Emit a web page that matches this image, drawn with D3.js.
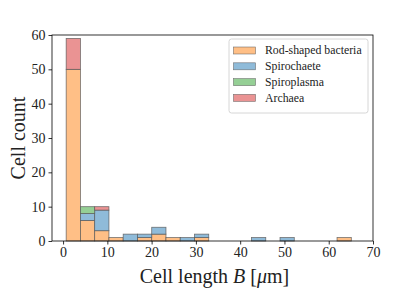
<!DOCTYPE html>
<html>
<head>
<meta charset="utf-8">
<script src="https://cdn.jsdelivr.net/npm/d3@7"></script>
<style>
  body { margin: 0; background: #fff; }
  text { font-family: "Liberation Serif", "DejaVu Serif", serif; }
</style>
</head>
<body>
<div id="chart"></div>
<script>
// bin edges: 20 equal bins between min and max cell length
const binStart = 0.7;
const binEnd = 65.1;
const nBins = 20;

// counts per bin, one array per group (stacked in this order)
const rodShaped   = [50, 6, 3, 1, 0, 1, 2, 1, 0, 1, 0, 0, 0, 0, 0, 0, 0, 0, 0, 1];
const spirochaete = [0, 2, 6, 0, 2, 1, 2, 0, 1, 1, 0, 0, 0, 1, 0, 1, 0, 0, 0, 0];
const spiroplasma = [0, 2, 0, 0, 0, 0, 0, 0, 0, 0, 0, 0, 0, 0, 0, 0, 0, 0, 0, 0];
const archaea     = [9, 0, 1, 0, 0, 0, 0, 0, 0, 0, 0, 0, 0, 0, 0, 0, 0, 0, 0, 0];

const groups = ["Rod-shaped bacteria", "Spirochaete", "Spiroplasma", "Archaea"];
const colors = ["#ffbf86", "#8fbbd9", "#95cf95", "#ea9393"];
const xTicks = [0, 10, 20, 30, 40, 50, 60, 70];
const yTicks = [0, 10, 20, 30, 40, 50, 60];

const W = 415, H = 297;
const margin = {top: 35, right: 42, bottom: 56, left: 52};
const w = W - margin.left - margin.right;
const h = H - margin.top - margin.bottom;
const serif = "'Liberation Serif', 'DejaVu Serif', serif";

const svg = d3.select("#chart").append("svg")
    .attr("width", W).attr("height", H);
const g = svg.append("g")
    .attr("transform", "translate(" + margin.left + "," + margin.top + ")");

const x = d3.scaleLinear().domain([-2.5, 70]).range([0, w]);
const y = d3.scaleLinear().domain([0, 60]).range([h, 0]);

const binW = (binEnd - binStart) / nBins;
const rows = d3.range(nBins).map(i => ({
    x0: binStart + i * binW,
    x1: binStart + (i + 1) * binW,
    "Rod-shaped bacteria": rodShaped[i],
    "Spirochaete": spirochaete[i],
    "Spiroplasma": spiroplasma[i],
    "Archaea": archaea[i]
}));

const stacked = d3.stack().keys(groups)(rows);

stacked.forEach((layer, k) => {
    g.append("g").selectAll("rect")
        .data(layer.filter(d => d[1] - d[0] > 0))
        .enter().append("rect")
        .attr("x", d => x(d.data.x0))
        .attr("width", d => x(d.data.x1) - x(d.data.x0))
        .attr("y", d => y(d[1]))
        .attr("height", d => y(d[0]) - y(d[1]))
        .attr("fill", colors[k])
        .attr("stroke", "#555")
        .attr("stroke-opacity", 0.8)
        .attr("stroke-width", 0.8);
});

// axes
const xAxis = d3.axisBottom(x).tickValues(xTicks).tickSize(3.5).tickPadding(3);
const yAxis = d3.axisLeft(y).tickValues(yTicks).tickSize(3.5).tickPadding(3);

const gx = g.append("g").attr("transform", "translate(0," + h + ")").call(xAxis);
const gy = g.append("g").call(yAxis);
[gx, gy].forEach(a => {
    a.attr("font-family", serif).attr("font-size", 14);
    a.select(".domain").remove();
    a.selectAll("line").attr("stroke", "#000").attr("stroke-width", 0.8);
    a.selectAll("text").attr("fill", "#222");
});

// frame
g.append("rect").attr("width", w).attr("height", h)
    .attr("fill", "none").attr("stroke", "#000").attr("stroke-width", 0.8);

// axis titles
const xl = g.append("text")
    .attr("x", w / 2 + 2).attr("y", h + 42)
    .attr("text-anchor", "middle")
    .attr("font-size", "20px").attr("fill", "#222");
xl.append("tspan").text("Cell length ");
xl.append("tspan").attr("font-style", "italic").text("B");
xl.append("tspan").text(" [");
xl.append("tspan").attr("font-style", "italic").text("\u03bc");
xl.append("tspan").text("m]");

g.append("text")
    .attr("transform", "rotate(-90)")
    .attr("x", -h / 2 + 0).attr("y", -27)
    .attr("text-anchor", "middle")
    .attr("font-size", "20px").attr("fill", "#222")
    .text("Cell count");

// legend
const lg = svg.append("g").attr("transform", "translate(229,39)");
lg.append("rect").attr("width", 139).attr("height", 74).attr("rx", 2.5)
    .attr("fill", "#fff").attr("fill-opacity", 0.8)
    .attr("stroke", "#ccc").attr("stroke-width", 0.8);
groups.forEach((name, k) => {
    const yy = 11.5 + k * 15.8;
    lg.append("rect").attr("x", 4.5).attr("y", yy - 3.5).attr("width", 22).attr("height", 7)
        .attr("fill", colors[k]).attr("stroke", "#555").attr("stroke-opacity", 0.8)
        .attr("stroke-width", 0.6);
    lg.append("text").attr("x", 36).attr("y", yy + 3.8)
        .attr("font-size", "11.8px").attr("fill", "#222").text(name);
});
</script>
</body>
</html>
